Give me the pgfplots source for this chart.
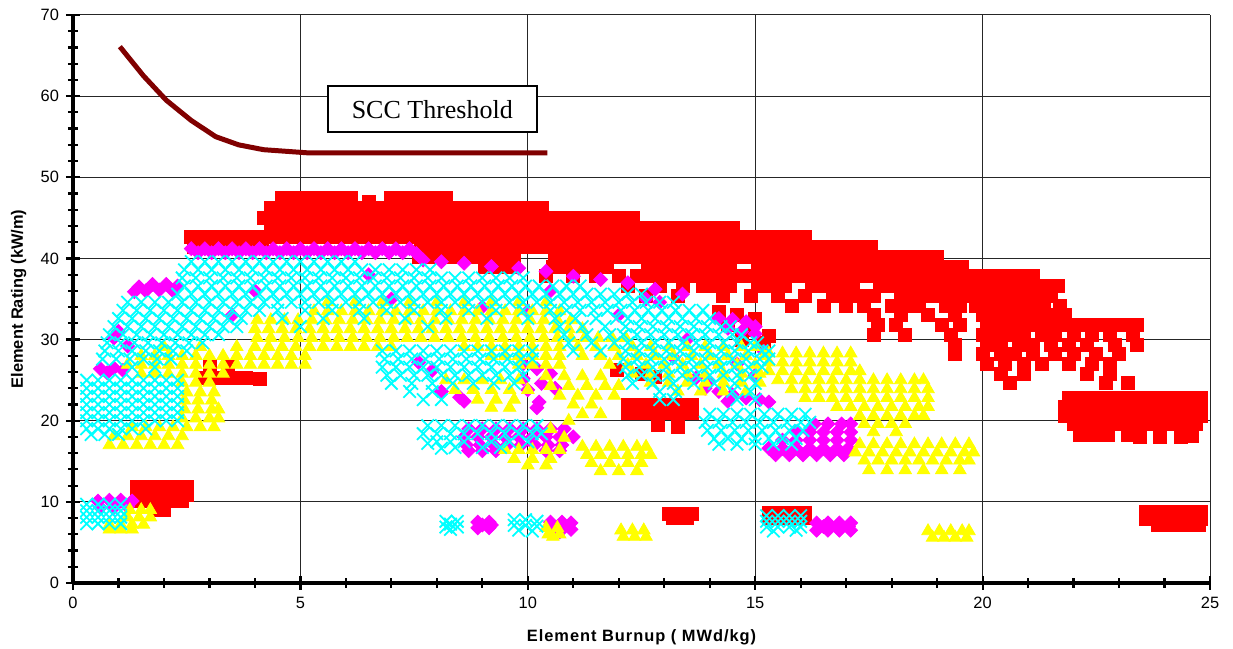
\documentclass[border=0pt]{standalone}
\usepackage{pgfplots}
\pgfplotsset{compat=1.18}
\usepackage{fontspec}
\setmainfont{Liberation Sans}
\newfontfamily\timesfont{Liberation Serif}
\newfontfamily\labfont[LetterSpace=6]{Liberation Sans}
\usetikzlibrary{calc}
\definecolor{maroon}{RGB}{128,0,0}
\definecolor{xred}{RGB}{255,0,0}
\definecolor{xmag}{RGB}{255,0,255}
\definecolor{xyel}{RGB}{255,255,0}
\definecolor{xcyn}{RGB}{0,255,255}
\begin{document}
\begin{tikzpicture}
\begin{axis}[name=ax,
  width=568.5pt, height=284pt, scale only axis,
  xmin=0, xmax=25, ymin=0, ymax=70,
  xtick={0,5,...,25}, ytick={0,10,...,70},
  minor x tick num=4, minor y tick num=4,
  axis lines=left, axis line style={-, line width=1.7pt, black},
  tick align=center, major tick length=7pt, minor tick length=5pt,
  tick style={black, line width=1.1pt},
  grid=major, grid style={black!85, line width=0.5pt},
  /pgf/number format/assume math mode=true,
  tick label style={font=\fontsize{8.2}{10}\selectfont},
  xlabel={\labfont\bfseries\fontsize{8.2}{10}\selectfont Element Burnup ( MWd/kg)},
  ylabel={\bfseries\fontsize{8.2}{10}\selectfont Element Rating (kW/m)},
  xlabel style={at={(axis description cs:0.5,-0.1037)}, anchor=base},
  ylabel style={at={(axis description cs:-0.0440,0.5)}, anchor=base},
  clip=false,
]
% ---------------- red squares
\addplot[only marks, mark=square*, mark size=3.25pt, color=xred] coordinates {
(4.6,47.4)(4.9,47.4)(5.2,47.4)(5.5,47.4)(5.8,47.4)(6.1,47.4)(6.5,47.0)(7.0,47.4)(7.3,47.4)(7.6,47.4)(7.9,47.4)(8.2,47.4)
(4.35,46.2)(4.65,46.2)(4.95,46.2)(5.25,46.2)(5.55,46.2)(5.85,46.2)(6.15,46.2)(6.45,46.2)(6.75,46.2)(7.05,46.2)(7.35,46.2)(7.65,46.2)(7.95,46.2)(8.25,46.2)(8.55,46.2)(8.85,46.2)(9.15,46.2)(9.45,46.2)(9.75,46.2)(10.05,46.2)(10.3,46.2)
(4.2,45)(4.5,45)(4.8,45)(5.1,45)(5.4,45)(5.7,45)(6.0,45)(6.3,45)(6.6,45)(6.9,45)(7.2,45)(7.5,45)(7.8,45)(8.1,45)(8.4,45)(8.7,45)(9.0,45)(9.3,45)(9.6,45)(9.9,45)(10.2,45)(10.5,45)(10.8,45)(11.1,45)(11.4,45)(11.7,45)(12.0,45)(12.3,45)
(4.35,43.8)(4.65,43.8)(4.95,43.8)(5.25,43.8)(5.55,43.8)(5.85,43.8)(6.15,43.8)(6.45,43.8)(6.75,43.8)(7.05,43.8)(7.35,43.8)(7.65,43.8)(7.95,43.8)(8.25,43.8)(8.55,43.8)(8.85,43.8)(9.15,43.8)(9.45,43.8)(9.75,43.8)(10.05,43.8)(10.35,43.8)(10.65,43.8)(10.95,43.8)(11.25,43.8)(11.55,43.8)(11.85,43.8)(12.15,43.8)(12.45,43.8)(12.75,43.8)(13.05,43.8)(13.35,43.8)(13.65,43.8)(13.95,43.8)(14.25,43.8)(14.5,43.8)
(2.6,42.6)(2.9,42.6)(3.2,42.6)(3.5,42.6)(3.8,42.6)(4.1,42.6)(4.4,42.6)(4.7,42.6)(5.0,42.6)(5.3,42.6)(5.6,42.6)(5.9,42.6)(6.2,42.6)(6.5,42.6)(6.8,42.6)(7.1,42.6)(7.4,42.6)(7.7,42.6)(8.0,42.6)(8.3,42.6)(8.6,42.6)(8.9,42.6)(9.2,42.6)(9.5,42.6)(9.8,42.6)(10.1,42.6)(10.4,42.6)(10.7,42.6)(11.0,42.6)(11.3,42.6)(11.6,42.6)(11.9,42.6)(12.2,42.6)(12.5,42.6)(12.8,42.6)(13.1,42.6)(13.4,42.6)(13.7,42.6)(14.0,42.6)(14.3,42.6)(14.6,42.6)(14.9,42.6)(15.2,42.6)(15.5,42.6)(15.8,42.6)(16.1,42.6)
(2.65,41.4)(2.95,41.4)(3.25,41.4)(3.55,41.4)(3.85,41.4)(4.15,41.4)(7.65,41.4)(7.95,41.4)(8.25,41.4)(8.55,41.4)(8.85,41.4)(9.15,41.4)(9.45,41.4)(9.75,41.4)(10.05,41.4)(10.35,41.4)(10.65,41.4)(10.95,41.4)(11.25,41.4)(11.55,41.4)(11.85,41.4)(12.15,41.4)(12.45,41.4)(12.75,41.4)(13.05,41.4)(13.35,41.4)(13.65,41.4)(13.95,41.4)(14.25,41.4)(14.55,41.4)(14.85,41.4)(15.15,41.4)(15.45,41.4)(15.75,41.4)(16.05,41.4)(16.35,41.4)(16.65,41.4)(16.95,41.4)(17.25,41.4)(17.55,41.4)
(7.6,40.2)(7.9,40.2)(8.2,40.2)(8.5,40.2)(8.8,40.2)(9.1,40.2)(9.4,40.2)(9.7,40.2)(10.6,40.2)(10.9,40.2)(11.2,40.2)(11.5,40.2)(11.8,40.2)(12.1,40.2)(12.4,40.2)(12.7,40.2)(13.0,40.2)(13.3,40.2)(13.6,40.2)(13.9,40.2)(14.2,40.2)(14.5,40.2)(14.8,40.2)(15.1,40.2)(15.4,40.2)(15.7,40.2)(16.0,40.2)(16.3,40.2)(16.6,40.2)(16.9,40.2)(17.2,40.2)(17.5,40.2)(17.8,40.2)(18.1,40.2)(18.4,40.2)(18.7,40.2)(19.0,40.2)
(9.05,39)(9.35,39)(9.65,39)(10.55,39)(10.85,39)(11.15,39)(11.45,39)(11.75,39)(12.65,39)(12.95,39)(13.25,39)(13.55,39)(13.85,39)(14.15,39)(14.45,39)(15.05,39)(15.35,39)(15.65,39)(15.95,39)(16.25,39)(16.55,39)(16.85,39)(17.15,39)(17.45,39)(17.75,39)(18.05,39)(18.35,39)(18.65,39)(18.95,39)(19.25,39)(19.55,39)
(10.4,37.8)(11.0,37.8)(11.5,37.8)(12.0,37.8)(12.4,37.8)(12.7,37.8)(13.0,37.8)(13.3,37.8)(13.6,37.8)(13.9,37.8)(14.2,37.8)(14.5,37.8)(14.8,37.8)(15.1,37.8)(15.4,37.8)(15.7,37.8)(16.0,37.8)(16.3,37.8)(16.6,37.8)(16.9,37.8)(17.2,37.8)(17.5,37.8)(17.8,37.8)(18.1,37.8)(18.4,37.8)(18.7,37.8)(19.0,37.8)(19.3,37.8)(19.6,37.8)(19.9,37.8)(20.2,37.8)(20.5,37.8)(20.8,37.8)(21.1,37.8)
(12.2,36.6)(12.9,36.6)(13.4,36.6)(13.85,36.6)(14.15,36.6)(14.45,36.6)(15.05,36.6)(15.35,36.6)(15.65,36.6)(16.25,36.6)(16.55,36.6)(16.85,36.6)(17.15,36.6)(17.75,36.6)(18.05,36.6)(18.35,36.6)(18.65,36.6)(18.95,36.6)(19.25,36.6)(19.55,36.6)(19.85,36.6)(20.15,36.6)(20.45,36.6)(20.75,36.6)(21.05,36.6)(21.35,36.6)(21.65,36.6)
(12.6,35.4)(13.3,35.4)(14.3,35.4)(14.9,35.4)(15.5,35.4)(16.1,35.4)(16.7,35.4)(17.0,35.4)(17.3,35.4)(17.6,35.4)(18.2,35.4)(18.5,35.4)(18.8,35.4)(19.1,35.4)(19.4,35.4)(19.7,35.4)(20.0,35.4)(20.3,35.4)(20.6,35.4)(20.9,35.4)(21.2,35.4)(21.5,35.4)
(15.8,34.2)(16.5,34.2)(17.0,34.2)(17.4,34.2)(18.0,34.2)(18.3,34.2)(18.6,34.2)(19.2,34.2)(19.5,34.2)(19.85,34.2)(20.15,34.2)(20.45,34.2)(20.75,34.2)(21.05,34.2)(21.35,34.2)(21.7,34.2)
(17.6,33)(18.2,33)(18.8,33)(19.4,33)(20.0,33)(20.3,33)(20.6,33)(20.9,33)(21.2,33)(21.5,33)(21.8,33)
(17.7,31.8)(18.1,31.8)(19.1,31.8)(19.5,31.8)(20.1,31.8)(20.4,31.8)(20.7,31.8)(21.0,31.8)(21.3,31.8)(21.6,31.8)(21.9,31.8)(22.2,31.8)(22.5,31.8)(22.8,31.8)(23.1,31.8)(23.4,31.8)
(17.6,30.6)(18.3,30.6)(19.3,30.6)(20.0,30.6)(20.3,30.6)(20.6,30.6)(20.9,30.6)(21.3,30.6)(21.6,30.6)(22.0,30.6)(22.4,30.6)(22.8,30.6)(23.3,30.6)
(19.4,29.4)(20.1,29.4)(20.4,29.4)(20.8,29.4)(21.1,29.4)(21.5,29.4)(21.9,29.4)(22.3,29.4)(22.9,29.4)(23.4,29.4)
(19.4,28.2)(20.0,28.2)(20.4,28.2)(20.7,28.2)(21.1,28.2)(21.6,28.2)(22.0,28.2)(22.5,28.2)(23.0,28.2)
(20.1,27)(20.5,27)(20.9,27)(21.3,27)(21.9,27)(22.4,27)(22.8,27)
(20.4,25.8)(20.9,25.8)(22.3,25.8)(22.8,25.8)(20.6,24.6)(22.7,24.6)(23.2,24.6)
(14.2,33.4)(14.6,33.0)(15.0,32.6)(14.4,31.8)(14.9,31.2)(15.3,30.4)(14.7,30.0)(15.2,29.6)
(11.95,26.3)(12.5,25.8)(12.8,25.4)
(12.2,22)(12.5,22)(12.8,22)(13.1,22)(13.4,22)(13.6,22)(12.2,21)(12.5,21)(12.8,21)(13.1,21)(13.4,21)(13.6,21)(12.85,19.5)(13.3,19.2)
(2.9,25.3)(3.2,25.3)(3.5,25.3)(3.8,25.3)(4.1,25.1)(3.0,26.8)(3.4,26.6)
(1.4,11.8)(1.7,11.8)(2.0,11.8)(2.3,11.8)(2.5,11.8)(1.4,10.9)(1.7,10.9)(2.0,10.9)(2.3,10.9)(2.5,10.9)(1.5,10.1)(1.8,10.1)(2.1,10.1)(2.4,10.1)(1.8,9.0)(2.0,9.0)
(13.1,8.5)(13.35,8.5)(13.6,8.5)(13.2,8.0)(13.5,8.0)
(15.3,8.6)(15.6,8.6)(15.9,8.6)(16.1,8.6)(15.3,8.0)(15.6,8.0)(15.9,8.0)(16.1,8.0)
(23.6,8.7)(23.9,8.7)(24.2,8.7)(24.5,8.7)(24.8,8.7)(23.6,7.9)(23.9,7.9)(24.2,7.9)(24.5,7.9)(24.8,7.9)(23.85,7.2)(24.15,7.2)(24.45,7.2)(24.75,7.2)
(21.9,22.8)(22.2,22.8)(22.5,22.8)(22.8,22.8)(23.1,22.8)(23.4,22.8)(23.7,22.8)(24.0,22.8)(24.3,22.8)(24.6,22.8)(24.8,22.8)
(21.8,21.7)(22.1,21.7)(22.4,21.7)(22.7,21.7)(23.0,21.7)(23.3,21.7)(23.6,21.7)(23.9,21.7)(24.2,21.7)(24.5,21.7)(24.8,21.7)
(21.8,20.6)(22.1,20.6)(22.4,20.6)(22.7,20.6)(23.0,20.6)(23.3,20.6)(23.6,20.6)(23.9,20.6)(24.2,20.6)(24.5,20.6)(24.8,20.6)
(22.0,19.6)(22.3,19.6)(22.6,19.6)(22.9,19.6)(23.2,19.6)(23.5,19.6)(23.8,19.6)(24.1,19.6)(24.4,19.6)(24.7,19.6)
(22.15,18.2)(22.45,18.2)(22.75,18.2)(23.2,18.2)(23.45,18.0)(23.9,18.0)(24.35,18.0)(24.6,18.1)
};
% ---------------- magenta diamonds
\addplot[only marks, mark=square*, mark options={rotate=45}, mark size=2.45pt, color=xmag] coordinates {
(2.6,41.2)(2.9,41.2)(3.2,41.2)(3.5,41.2)(3.8,41.2)(4.1,41.2)(4.4,41.2)(4.7,41.2)(5.0,41.2)(5.3,41.2)(5.6,41.2)(5.9,41.2)(6.2,41.2)(6.5,41.2)(6.8,41.2)(7.1,41.2)(7.4,41.2)
(2.75,40.7)(3.05,40.7)(3.35,40.7)(3.65,40.7)(3.95,40.7)(4.25,40.7)(4.55,40.7)(4.85,40.7)(5.15,40.7)(5.45,40.7)(5.75,40.7)(6.05,40.7)(6.35,40.7)(6.65,40.7)(6.95,40.7)(7.25,40.7)(7.55,40.6)
(7.7,39.8)(8.1,39.6)(8.6,39.4)(9.2,39.0)(9.8,38.8)(10.4,38.4)(11.0,37.8)(11.6,37.4)(12.2,37.0)(12.8,36.2)(13.4,35.6)
(1.45,36.5)(1.75,36.8)(2.05,36.8)(2.3,36.6)(1.6,36.0)(1.9,36.1)(2.2,36.0)(1.35,35.9)
(1.0,31.0)(0.9,30.2)(1.2,29.2)
(0.6,26.4)(0.9,26.5)(1.1,26.2)(0.75,25.9)
(4.0,36.0)(7.0,35.0)(9.0,34.0)(3.5,33.0)(10.0,33.5)(12.0,33.0)(6.5,38.0)(10.5,36.0)(13.5,30)
(12.6,35.0)(12.9,34.6)(14.2,32.6)(14.5,32.5)(14.8,32.2)(15.0,31.6)(14.4,31.4)(14.7,31.0)(15.0,30.7)
(13.7,25.3)(14.0,24.8)(13.9,24.0)(14.2,23.6)(14.5,23.2)(14.8,22.8)(15.1,22.6)(15.3,22.3)(14.4,22.4)
(9.9,27.0)(10.2,26.4)(10.5,25.8)(9.9,25.2)(10.3,24.6)(10.6,24.0)(10.0,23.8)(7.6,27.2)(7.9,26.2)(8.1,23.6)(8.5,22.9)(8.6,22.4)(10.2,21.6)(10.25,22.3)
(15.2,28.5)(14.6,27.0)(15.0,25.6)(13.2,27.8)
(8.7,19)(9.0,19)(9.3,19)(9.6,19)(9.9,19)(10.2,19)(10.5,19)(10.8,19)
(8.6,18)(8.9,18)(9.2,18)(9.5,18)(9.8,18)(10.1,18)(10.4,18)(10.7,18)(11.0,18)
(8.65,17)(8.95,17)(9.25,17)(9.55,17)(9.85,17)(10.15,17)(10.45,17)(10.75,17)
(8.7,16.3)(9.0,16.3)(9.3,16.3)(10.4,16.3)(10.7,16.3)
(16.3,19.6)(16.6,19.6)(16.9,19.6)(17.1,19.6)
(15.9,18.6)(16.2,18.6)(16.5,18.6)(16.8,18.6)(17.1,18.6)
(15.6,17.6)(15.9,17.6)(16.2,17.6)(16.5,17.6)(16.8,17.6)(17.1,17.6)
(15.3,16.6)(15.6,16.6)(15.9,16.6)(16.2,16.6)(16.5,16.6)(16.8,16.6)(17.05,16.6)
(15.45,15.8)(15.75,15.8)(16.05,15.8)(16.35,15.8)(16.65,15.8)(16.95,15.8)
(0.55,10.1)(0.8,10.2)(1.05,10.2)(1.3,10.1)(0.6,9.3)(0.9,9.3)(1.2,9.4)
(8.9,7.5)(9.15,7.5)(8.9,6.8)(9.15,6.8)(9.0,7.15)(9.2,7.15)
(10.5,7.5)(10.75,7.5)(10.95,7.4)(10.5,6.8)(10.75,6.8)(10.95,6.6)(10.7,6.3)
(16.35,7.4)(16.6,7.4)(16.85,7.4)(17.1,7.4)(16.35,6.5)(16.6,6.5)(16.85,6.5)(17.1,6.5)(16.5,6.95)(16.8,6.95)(17.05,6.95)
};
% ---------------- yellow triangles
\addplot[only marks, mark=triangle*, mark size=3.6pt, color=xyel] coordinates {
(0.8,17)(1.1,17)(1.4,17)(1.7,17)(2.0,17)(2.3,17)
(0.9,18.1)(1.2,18.1)(1.5,18.1)(1.8,18.1)(2.1,18.1)(2.4,18.1)
(1.3,19.2)(1.6,19.2)(1.9,19.2)(2.2,19.2)(2.5,19.2)(2.8,19.2)(3.1,19.2)
(2.4,20.3)(2.7,20.3)(3.0,20.3)(3.2,20.3)(2.45,21.4)(2.75,21.4)(3.05,21.4)(3.2,21.4)
(2.45,22.5)(2.75,22.5)(3.05,22.5)(2.5,23.5)(2.8,23.5)(3.1,23.5)
(2.4,24.7)(2.7,24.7)(3.0,24.7)
(1.5,25.8)(1.8,25.8)(2.1,25.8)(2.4,25.8)(2.7,25.8)(3.0,25.8)(3.3,25.8)
(1.2,26.9)(1.5,26.9)(1.8,26.9)(2.1,26.9)(2.4,26.9)(2.7,26.9)(3.0,26.9)(3.3,26.9)(3.6,26.9)(3.9,26.9)(4.2,26.9)(4.5,26.9)(4.8,26.9)(5.1,26.9)(9.8,26.9)(10.1,26.9)(10.4,26.9)(10.7,26.9)(11.8,26.9)(12.2,26.9)(12.6,26.9)(13.0,26.9)(13.4,26.9)(13.8,26.9)(14.2,26.9)(14.6,26.9)(15.0,26.9)
(1.5,28)(1.8,28)(2.1,28)(2.4,28)(2.7,28)(3.0,28)(3.3,28)(3.6,28)(3.9,28)(4.2,28)(4.5,28)(4.8,28)(5.1,28)(9.2,28)(9.5,28)(9.8,28)(10.1,28)(10.4,28)(10.7,28)(11.2,28)(11.6,28)(12.0,28)(12.4,28)(12.8,28)(13.2,28)(13.6,28)(14.0,28)(14.4,28)(14.8,28)(15.2,28)
(2.0,29.1)(2.8,29.1)(3.6,29.1)(4.0,29.1)(4.3,29.1)(4.6,29.1)(4.9,29.1)(5.2,29.1)(5.5,29.1)(5.8,29.1)(6.1,29.1)(6.4,29.1)(6.7,29.1)(7.0,29.1)(8.6,29.1)(8.9,29.1)(9.2,29.1)(9.5,29.1)(9.8,29.1)(10.1,29.1)(10.4,29.1)(10.7,29.1)(11.1,29.1)(11.5,29.1)(11.9,29.1)(12.3,29.1)(12.7,29.1)(13.1,29.1)(13.5,29.1)(13.9,29.1)(14.3,29.1)(14.7,29.1)(15.0,29.1)
(4.05,30.2)(4.35,30.2)(4.65,30.2)(4.95,30.2)(5.25,30.2)(5.55,30.2)(5.85,30.2)(6.15,30.2)(6.45,30.2)(6.75,30.2)(7.05,30.2)(7.35,30.2)(7.65,30.2)(7.95,30.2)(8.25,30.2)(8.55,30.2)(8.85,30.2)(9.15,30.2)(9.45,30.2)(9.75,30.2)(10.05,30.2)(10.35,30.2)(10.65,30.2)(10.95,30.2)(11.25,30.2)(11.55,30.2)(11.85,30.2)(12.15,30.2)
(4.0,31.3)(4.3,31.3)(4.6,31.3)(4.9,31.3)(5.2,31.3)(5.5,31.3)(5.8,31.3)(6.1,31.3)(6.4,31.3)(6.7,31.3)(7.0,31.3)(7.3,31.3)(7.6,31.3)(7.9,31.3)(8.2,31.3)(8.5,31.3)(8.8,31.3)(9.1,31.3)(9.4,31.3)(9.7,31.3)(10.0,31.3)(10.3,31.3)(10.6,31.3)(10.9,31.3)(11.2,31.3)
(4.05,32.4)(4.35,32.4)(4.65,32.4)(4.95,32.4)(5.25,32.4)(5.55,32.4)(5.85,32.4)(6.15,32.4)(6.45,32.4)(6.75,32.4)(7.05,32.4)(7.35,32.4)(7.65,32.4)(7.95,32.4)(8.25,32.4)(8.55,32.4)(8.85,32.4)(9.15,32.4)(9.45,32.4)(9.75,32.4)(10.05,32.4)(10.35,32.4)(10.65,32.4)(10.95,32.4)
(5.3,33.5)(5.6,33.5)(5.9,33.5)(6.2,33.5)(6.5,33.5)(6.8,33.5)(7.1,33.5)(7.4,33.5)(7.7,33.5)(8.0,33.5)(8.3,33.5)(8.6,33.5)(8.9,33.5)(9.2,33.5)(9.5,33.5)(9.8,33.5)(10.1,33.5)(10.4,33.5)(10.7,33.5)
(5.6,34.6)(6.2,34.6)(6.8,34.6)(7.4,34.6)(8.0,34.6)(8.6,34.6)(9.2,34.6)(9.8,34.6)(10.4,34.6)
(12.3,25.8)(12.7,25.8)(13.1,25.8)(13.5,25.8)(13.9,25.8)(14.3,25.8)(14.7,25.8)(15.1,25.8)
(12.7,24.7)(13.1,24.7)(13.5,24.7)(13.9,24.7)(14.3,24.7)(14.7,24.7)(15.1,24.7)(13.3,23.6)(13.8,23.6)(14.3,23.6)(14.8,23.6)
(8.2,25.0)(8.6,25.0)(9.0,25.0)(9.4,25.0)(9.8,25.0)(8.4,23.8)(8.8,23.8)(9.2,23.8)(9.6,23.8)(10.0,23.8)(8.9,22.6)(9.3,22.6)(9.7,22.6)(9.2,21.6)(9.6,21.6)
(10.4,25.5)(10.8,25.5)(11.2,25.5)(11.6,25.5)(10.5,24.3)(10.9,24.3)(11.3,24.3)(11.7,24.3)(12.0,24.3)(10.7,23.1)(11.1,23.1)(11.5,23.1)(11.9,23.1)(11.0,22.0)(11.4,22.0)(11.2,20.8)(11.6,20.8)(10.9,20.0)
(9.5,16.4)(9.8,16.4)(10.1,16.4)(10.4,16.4)(10.7,16.4)(9.7,15.3)(10.1,15.3)(10.5,15.3)(10.0,14.5)(10.4,14.5)(10.5,19.0)(10.8,17.9)
(11.2,16.8)(11.5,16.8)(11.8,16.8)(12.1,16.8)(12.4,16.8)(12.6,16.8)(11.3,15.8)(11.6,15.8)(11.9,15.8)(12.2,15.8)(12.5,15.8)(12.7,15.8)(11.4,14.8)(11.8,14.8)(12.2,14.8)(12.5,14.8)(11.6,13.8)(12.0,13.8)(12.4,13.8)
(15.3,28.3)(15.6,28.3)(15.9,28.3)(16.2,28.3)(16.5,28.3)(16.8,28.3)(17.1,28.3)
(15.3,27.2)(15.6,27.2)(15.9,27.2)(16.2,27.2)(16.5,27.2)(16.8,27.2)(17.1,27.2)
(15.3,26.1)(15.6,26.1)(15.9,26.1)(16.2,26.1)(16.5,26.1)(16.8,26.1)(17.1,26.1)(17.3,26.1)
(15.5,25)(15.8,25)(16.1,25)(16.4,25)(16.7,25)(17.0,25)(17.3,25)(17.6,25)(17.9,25)(18.2,25)(18.5,25)(18.7,25)
(15.8,23.9)(16.1,23.9)(16.4,23.9)(16.7,23.9)(17.0,23.9)(17.3,23.9)(17.6,23.9)(17.9,23.9)(18.2,23.9)(18.5,23.9)(18.8,23.9)
(16.1,22.8)(16.4,22.8)(16.7,22.8)(17.0,22.8)(17.3,22.8)(17.6,22.8)(17.9,22.8)(18.2,22.8)(18.5,22.8)(18.8,22.8)
(16.8,21.7)(17.1,21.7)(17.4,21.7)(17.7,21.7)(18.0,21.7)(18.3,21.7)(18.6,21.7)(18.8,21.7)
(17.3,20.6)(17.6,20.6)(17.9,20.6)(18.2,20.6)(18.5,20.6)(18.7,20.6)(17.4,19.6)(17.7,19.6)(18.0,19.6)(18.3,19.6)(17.6,18.6)(18.1,18.6)
(17.3,17.1)(17.6,17.1)(17.9,17.1)(18.2,17.1)(18.5,17.1)(18.8,17.1)(19.1,17.1)(19.4,17.1)(19.7,17.1)
(17.2,16.1)(17.5,16.1)(17.8,16.1)(18.1,16.1)(18.4,16.1)(18.7,16.1)(19.0,16.1)(19.3,16.1)(19.6,16.1)(19.8,16.1)
(17.4,15.1)(17.7,15.1)(18.0,15.1)(18.3,15.1)(18.6,15.1)(18.9,15.1)(19.2,15.1)(19.5,15.1)(19.7,15.1)
(17.5,13.9)(17.9,13.9)(18.3,13.9)(18.7,13.9)(19.1,13.9)(19.5,13.9)
(1.25,9.0)(1.5,9.0)(1.7,9.0)(1.2,8.1)(1.45,8.1)(1.7,8.1)(0.8,7.2)(1.05,7.2)(1.3,7.2)(1.55,7.2)(0.8,6.6)(1.05,6.6)(1.3,6.6)
(10.4,6.8)(10.65,6.8)(10.45,6.0)(10.7,6.0)(10.55,5.7)
(12.05,6.5)(12.3,6.5)(12.55,6.5)(12.1,5.7)(12.35,5.7)(12.6,5.7)
(18.8,6.4)(19.05,6.4)(19.3,6.4)(19.55,6.4)(19.7,6.4)(18.9,5.6)(19.15,5.6)(19.4,5.6)(19.65,5.6)
};
% ---------------- cyan crosses
\addplot[only marks, mark=x, mark size=4.4pt, color=xcyn, mark options={line width=0.9pt}] coordinates {
(0.3,25)(0.55,25)(0.8,25)(1.05,25)(1.3,25)(1.55,25)(1.8,25)(2.05,25)(2.3,25)
(0.3,24)(0.55,24)(0.8,24)(1.05,24)(1.3,24)(1.55,24)(1.8,24)(2.05,24)(2.3,24)
(0.3,23)(0.55,23)(0.8,23)(1.05,23)(1.3,23)(1.55,23)(1.8,23)(2.05,23)(2.3,23)
(0.3,22)(0.55,22)(0.8,22)(1.05,22)(1.3,22)(1.55,22)(1.8,22)(2.05,22)(2.3,22)
(0.3,21)(0.55,21)(0.8,21)(1.05,21)(1.3,21)(1.55,21)(1.8,21)(2.05,21)(2.3,21)
(0.3,20)(0.55,20)(0.8,20)(1.05,20)(1.3,20)(1.55,20)(1.8,20)(2.05,20)(2.3,20)
(0.3,19)(0.55,19)(0.8,19)(1.05,19)(1.3,19)(1.6,19)(0.4,18.3)(0.7,18.3)(1.0,18.3)
(2.6,39.6)(2.9,39.6)(3.2,39.6)(3.5,39.6)(3.8,39.6)(4.1,39.6)(4.4,39.6)(4.7,39.6)(5.0,39.6)(5.3,39.6)(5.6,39.6)(5.9,39.6)(6.2,39.6)
(2.45,38.6)(2.75,38.6)(3.05,38.6)(3.35,38.6)(3.65,38.6)(3.95,38.6)(4.25,38.6)(4.55,38.6)(4.85,38.6)(5.15,38.6)(5.45,38.6)(5.75,38.6)(6.05,38.6)(6.35,38.6)(6.65,38.6)(6.95,38.6)(7.25,38.6)(7.55,38.6)(7.85,38.6)
(2.4,37.6)(2.7,37.6)(3.0,37.6)(3.3,37.6)(3.6,37.6)(3.9,37.6)(4.2,37.6)(4.5,37.6)(4.8,37.6)(5.1,37.6)(5.4,37.6)(5.7,37.6)(6.0,37.6)(6.3,37.6)(6.6,37.6)(6.9,37.6)(7.2,37.6)(7.5,37.6)(7.8,37.6)(8.1,37.6)(8.4,37.6)(8.7,37.6)(9.0,37.6)(9.3,37.6)(9.6,37.6)(9.9,37.6)
(2.45,36.6)(2.75,36.6)(3.05,36.6)(3.35,36.6)(3.65,36.6)(3.95,36.6)(4.25,36.6)(4.55,36.6)(4.85,36.6)(5.15,36.6)(5.45,36.6)(5.75,36.6)(6.05,36.6)(6.35,36.6)(6.65,36.6)(6.95,36.6)(7.25,36.6)(7.55,36.6)(7.85,36.6)(8.15,36.6)(8.45,36.6)(8.75,36.6)(9.05,36.6)(9.35,36.6)(9.65,36.6)(9.95,36.6)(10.25,36.6)(10.55,36.6)(10.85,36.6)(11.15,36.6)
(2.3,35.6)(2.6,35.6)(2.9,35.6)(3.2,35.6)(3.5,35.6)(3.8,35.6)(4.1,35.6)(4.4,35.6)(4.7,35.6)(5.0,35.6)(5.3,35.6)(5.6,35.6)(5.9,35.6)(6.2,35.6)(6.5,35.6)(6.8,35.6)(7.1,35.6)(7.4,35.6)(7.7,35.6)(8.0,35.6)(8.3,35.6)(8.6,35.6)(8.9,35.6)(9.2,35.6)(9.5,35.6)(9.8,35.6)(10.1,35.6)(10.4,35.6)(10.7,35.6)(11.0,35.6)(11.3,35.6)(11.6,35.6)(11.9,35.6)(12.2,35.6)(12.5,35.6)
(1.2,34.6)(1.5,34.6)(1.8,34.6)(2.1,34.6)(2.4,34.6)(2.7,34.6)(3.0,34.6)(3.3,34.6)(3.6,34.6)(3.9,34.6)(4.2,34.6)(4.5,34.6)(4.8,34.6)(5.1,34.6)(5.4,34.6)(5.7,34.6)(6.0,34.6)(6.3,34.6)(6.6,34.6)(6.9,34.6)(7.2,34.6)(7.5,34.6)(7.8,34.6)(8.1,34.6)(8.4,34.6)(8.7,34.6)(9.0,34.6)(9.3,34.6)(9.6,34.6)(9.9,34.6)(10.2,34.6)(10.5,34.6)(10.8,34.6)(11.1,34.6)(11.4,34.6)(11.7,34.6)(12.0,34.6)(12.3,34.6)(12.6,34.6)(12.9,34.6)(13.2,34.6)
(1.1,33.6)(1.4,33.6)(1.7,33.6)(2.0,33.6)(2.3,33.6)(2.6,33.6)(2.9,33.6)(3.2,33.6)(3.5,33.6)(3.8,33.6)(4.1,33.6)(4.5,33.6)(5.1,33.6)(5.7,33.6)(6.3,33.6)(6.9,33.6)(7.5,33.6)(8.1,33.6)(8.7,33.6)(9.3,33.6)(9.9,33.6)(10.5,33.6)(10.85,33.6)(11.15,33.6)(11.45,33.6)(11.75,33.6)(12.05,33.6)(12.35,33.6)(12.65,33.6)(12.95,33.6)(13.25,33.6)(13.55,33.6)(13.85,33.6)
(1.0,32.6)(1.3,32.6)(1.6,32.6)(1.9,32.6)(2.2,32.6)(2.5,32.6)(2.8,32.6)(3.1,32.6)(3.4,32.6)(3.7,32.6)(4.6,32.6)(5.5,32.6)(6.4,32.6)(7.3,32.6)(8.2,32.6)(9.1,32.6)(10.0,32.6)(10.6,32.6)(11.05,32.6)(11.5,32.6)(11.95,32.6)(12.2,32.6)(12.5,32.6)(12.8,32.6)(13.1,32.6)(13.4,32.6)(13.7,32.6)(14.0,32.6)
(0.9,31.6)(1.2,31.6)(1.5,31.6)(1.8,31.6)(2.1,31.6)(2.4,31.6)(2.7,31.6)(3.0,31.6)(3.3,31.6)(3.6,31.6)(5.0,31.6)(7.8,31.6)(10.7,31.6)(11.2,31.6)(11.7,31.6)(12.15,31.6)(12.45,31.6)(12.75,31.6)(13.05,31.6)(13.35,31.6)(13.65,31.6)(13.95,31.6)(14.25,31.6)(14.45,31.6)
(0.8,30.6)(1.1,30.6)(1.4,30.6)(1.7,30.6)(2.0,30.6)(2.3,30.6)(2.6,30.6)(2.9,30.6)(3.2,30.6)(10.8,30.6)(11.3,30.6)(11.8,30.6)(12.1,30.6)(12.4,30.6)(12.7,30.6)(13.0,30.6)(13.3,30.6)(13.6,30.6)(13.9,30.6)(14.2,30.6)(14.5,30.6)(14.7,30.6)
(0.75,29.6)(1.05,29.6)(1.35,29.6)(1.65,29.6)(1.95,29.6)(2.25,29.6)(2.55,29.6)(2.85,29.6)(10.9,29.6)(11.4,29.6)(11.9,29.6)(12.2,29.6)(12.5,29.6)(12.8,29.6)(13.1,29.6)(13.4,29.6)(13.7,29.6)(14.0,29.6)(14.3,29.6)(14.6,29.6)(14.9,29.6)(15.05,29.6)
(0.7,28.6)(1.0,28.6)(1.3,28.6)(1.6,28.6)(1.9,28.6)(2.2,28.6)(2.5,28.6)(6.8,28.6)(7.1,28.6)(7.4,28.6)(7.7,28.6)(8.0,28.6)(8.3,28.6)(8.6,28.6)(8.9,28.6)(9.2,28.6)(9.5,28.6)(9.8,28.6)(10.1,28.6)(11.0,28.6)(11.6,28.6)(12.15,28.6)(12.45,28.6)(12.75,28.6)(13.05,28.6)(13.35,28.6)(13.65,28.6)(13.95,28.6)(14.25,28.6)(14.55,28.6)(14.85,28.6)(15.15,28.6)(15.3,28.6)
(0.65,27.6)(0.95,27.6)(1.25,27.6)(1.55,27.6)(1.85,27.6)(2.15,27.6)(6.85,27.6)(7.15,27.6)(7.45,27.6)(7.75,27.6)(8.05,27.6)(8.35,27.6)(8.65,27.6)(8.95,27.6)(9.25,27.6)(9.55,27.6)(9.85,27.6)(10.1,27.6)(12.1,27.6)(12.4,27.6)(12.7,27.6)(13.0,27.6)(13.3,27.6)(13.6,27.6)(13.9,27.6)(14.2,27.6)(14.5,27.6)(14.8,27.6)(15.1,27.6)(15.3,27.6)
(1.3,26.6)(1.8,26.6)(6.8,26.6)(7.1,26.6)(7.4,26.6)(7.7,26.6)(8.0,26.6)(8.3,26.6)(8.6,26.6)(8.9,26.6)(9.2,26.6)(9.5,26.6)(9.8,26.6)(12.15,26.6)(12.45,26.6)(12.75,26.6)(13.05,26.6)(13.35,26.6)(13.65,26.6)(13.95,26.6)(14.25,26.6)(14.55,26.6)(14.85,26.6)(15.15,26.6)
(6.9,25.6)(7.2,25.6)(7.5,25.6)(7.8,25.6)(8.1,25.6)(8.4,25.6)(8.7,25.6)(9.0,25.6)(9.3,25.6)(9.6,25.6)(9.9,25.6)(12.2,25.6)(12.5,25.6)(12.8,25.6)(13.1,25.6)(13.4,25.6)(13.7,25.6)(14.0,25.6)(14.3,25.6)(14.6,25.6)(14.9,25.6)
(7.0,24.6)(7.45,24.6)(7.9,24.6)(8.35,24.6)(8.8,24.6)(9.25,24.6)(9.7,24.6)(12.3,24.6)(12.75,24.6)(13.2,24.6)(13.65,24.6)(14.1,24.6)(14.55,24.6)(15.0,24.6)
(7.4,23.6)(7.9,23.6)(12.9,23.6)(13.25,23.6)(14.5,23.6)(14.9,23.6)(7.7,22.6)(8.1,22.6)(12.9,22.6)(13.2,22.6)(14.6,22.6)(15.0,22.6)
(7.8,19.4)(8.1,19.4)(8.4,19.4)(8.7,19.4)(9.0,19.4)(9.3,19.4)(9.6,19.4)(9.9,19.4)(10.2,19.4)
(7.7,18.4)(8.0,18.4)(8.3,18.4)(8.6,18.4)(8.9,18.4)(9.2,18.4)(9.5,18.4)(9.8,18.4)(10.1,18.4)(10.3,18.4)
(8.0,17.4)(8.3,17.4)(8.6,17.4)(9.2,17.4)(9.6,17.4)(10.0,17.4)(8.4,16.7)(9.0,16.7)(9.4,16.7)(7.8,17.2)(8.1,16.6)
(14.0,20.8)(14.3,20.8)(14.6,20.8)(14.9,20.8)(15.2,20.8)(15.5,20.8)(15.8,20.8)(16.1,20.8)
(13.9,19.8)(14.2,19.8)(14.5,19.8)(14.8,19.8)(15.1,19.8)(15.4,19.8)(15.7,19.8)(16.0,19.8)(16.2,19.8)
(13.95,18.8)(14.25,18.8)(14.55,18.8)(14.85,18.8)(15.15,18.8)(15.45,18.8)(15.75,18.8)(16.05,18.8)
(14.1,17.8)(14.4,17.8)(14.7,17.8)(15.0,17.8)(15.3,17.8)(15.6,17.8)(15.9,17.8)(14.2,17.1)(14.6,17.1)(15.0,17.1)(15.4,17.1)(15.8,17.1)
(0.3,9.7)(0.55,9.7)(0.8,9.7)(1.05,9.7)(0.3,8.9)(0.55,8.9)(0.8,8.9)(1.05,8.9)(0.3,8.1)(0.55,8.1)(0.8,8.1)(1.05,8.1)(0.3,7.3)(0.55,7.3)(0.8,7.3)(1.05,7.3)
(8.2,7.6)(8.45,7.6)(8.2,6.9)(8.45,6.9)(8.3,7.25)(8.3,6.6)
(9.7,7.8)(9.95,7.8)(10.2,7.6)(9.7,7.1)(9.95,7.1)(10.2,7.0)(9.8,6.5)(10.1,6.4)
(15.25,8.3)(15.5,8.3)(15.75,8.3)(16.0,8.3)(15.25,7.6)(15.5,7.6)(15.75,7.6)(16.0,7.6)(15.25,6.9)(15.5,6.9)(15.75,6.9)(16.0,6.9)(15.4,6.4)(15.9,6.5)
};
% ---------------- SCC threshold
\addplot[color=maroon, line width=2.5pt] coordinates {
(1.03,66.1)(1.55,62.5)(2.05,59.5)(2.6,57.0)(3.14,55.0)(3.64,54.0)(4.19,53.4)(5.19,53.0)(10.43,53.0)};
\node[draw=black, fill=white, line width=0.8pt, minimum width=104.5pt, minimum height=23pt, inner sep=0pt,
  font=\timesfont\fontsize{13}{15}\selectfont] at (axis cs:7.9,58.4) {SCC Threshold};
\end{axis}
\pgfresetboundingbox
\path[use as bounding box] ($(ax.south west)+(-36.5pt,-33pt)$) rectangle ($(ax.north east)+(11.5pt,7.5pt)$);
\end{tikzpicture}
\end{document}
